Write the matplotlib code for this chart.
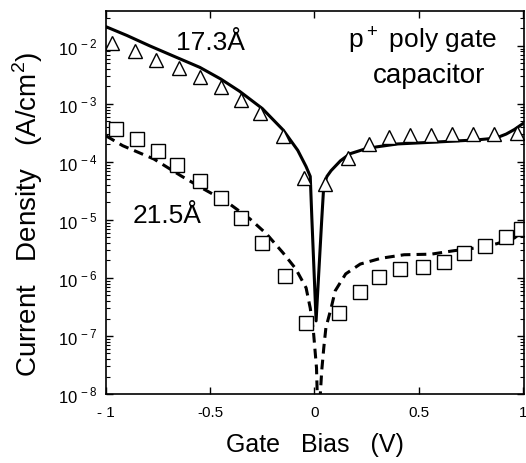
import numpy as np
import matplotlib
matplotlib.use('Agg')
import matplotlib.pyplot as plt
from matplotlib.ticker import LogLocator, NullFormatter, FixedLocator

plt.rcParams['font.family'] = ['Liberation Sans', 'DejaVu Sans']
plt.rcParams['mathtext.fontset'] = 'custom'
plt.rcParams['mathtext.rm'] = 'Liberation Sans'

# measured points, 17.3 A oxide (triangles)
tri_v = [-0.97, -0.86, -0.76, -0.65, -0.55, -0.45, -0.35, -0.26, -0.15, -0.05,
         0.05, 0.16, 0.26, 0.36, 0.46, 0.56, 0.66, 0.76, 0.86, 0.97]
tri_j = [1.12e-2, 8.2e-3, 5.7e-3, 4.2e-3, 2.9e-3, 1.96e-3, 1.17e-3, 6.9e-4, 2.8e-4, 5.3e-5,
         4.2e-5, 1.17e-4, 2.0e-4, 2.7e-4, 2.9e-4, 2.95e-4, 3.0e-4, 3.0e-4, 3.0e-4, 3.1e-4]

# measured points, 21.5 A oxide (squares)
sq_v = [-0.95, -0.85, -0.75, -0.66, -0.55, -0.45, -0.35, -0.25, -0.14, -0.04,
        0.12, 0.22, 0.31, 0.41, 0.52, 0.62, 0.72, 0.82, 0.92, 0.99]
sq_j = [3.7e-4, 2.5e-4, 1.56e-4, 8.9e-5, 4.7e-5, 2.4e-5, 1.07e-5, 4.0e-6, 1.08e-6, 1.7e-7,
        2.5e-7, 5.7e-7, 1.04e-6, 1.44e-6, 1.55e-6, 1.9e-6, 2.7e-6, 3.5e-6, 5.1e-6, 6.9e-6]

# simulated curve, 17.3 A (solid), log10 of current density
sim1_v = [-1.0, -0.9, -0.79, -0.68, -0.55, -0.45, -0.36, -0.25, -0.15, -0.08, -0.04, -0.02,
          -0.012, 0.008, 0.035, 0.045, 0.06, 0.08, 0.125, 0.17, 0.24, 0.30, 0.40, 0.57,
          0.78, 0.87, 0.92, 0.96, 1.0]
sim1_log = [-1.67, -1.82, -2.0, -2.17, -2.37, -2.57, -2.78, -3.08, -3.45, -3.8, -4.08, -4.25,
            -5.0, -6.74, -5.0, -4.4, -4.25, -4.15, -3.98, -3.86, -3.78, -3.74, -3.69, -3.66,
            -3.62, -3.59, -3.52, -3.44, -3.34]

# simulated curve, 21.5 A (dashed), log10 of current density
sim2_v = [-1.0, -0.92, -0.77, -0.64, -0.53, -0.42, -0.31, -0.23, -0.15, -0.09, -0.04, -0.02,
          -0.005, 0.01, 0.015, 0.025, 0.035, 0.045, 0.055, 0.08, 0.10, 0.15, 0.22, 0.32, 0.43,
          0.56, 0.67, 0.78, 0.875, 0.96, 1.0]
sim2_log = [-3.55, -3.72, -3.95, -4.24, -4.47, -4.69, -4.98, -5.24, -5.57, -5.84, -6.17, -6.52,
            -6.91, -7.55, -8.2, -8.2, -7.6, -7.2, -6.86, -6.52, -6.22, -5.93, -5.76, -5.66, -5.60,
            -5.59, -5.53, -5.48, -5.41, -5.31, -5.19]

fig = plt.figure(figsize=(5.26, 4.64), dpi=100)
ax = fig.add_axes([0.2015, 0.1487, 0.7945, 0.8253])

ax.plot(sim1_v, 10 ** np.array(sim1_log), color='k', lw=2.2, solid_joinstyle='round')
ax.plot(sim2_v, 10 ** np.array(sim2_log), color='k', lw=2.2, dashes=(3.2, 2.0))
ax.plot(tri_v, tri_j, ls='none', marker='^', ms=10, mfc='white', mec='k', mew=1.0)
ax.plot(sq_v, sq_j, ls='none', marker='s', ms=10.5, mfc='white', mec='k', mew=1.0)

ax.set_yscale('log')
ax.set_xlim(-1.0, 1.005)
ax.set_ylim(1e-8, 10 ** -1.4)

ax.xaxis.set_major_locator(FixedLocator([-1, -0.5, 0, 0.5, 1]))
ax.set_xticklabels(['- 1', '-0.5', '0', '0.5', '1'])
ax.yaxis.set_minor_locator(LogLocator(base=10, subs=np.arange(2, 10), numticks=50))
ax.yaxis.set_minor_formatter(NullFormatter())
ax.set_yticks([1e-8, 1e-7, 1e-6, 1e-5, 1e-4, 1e-3, 1e-2])
ax.set_yticklabels([r'$10^{\,%d}$' % e for e in range(-8, -1)])

ax.tick_params(axis='x', which='both', direction='in', top=True, labelsize=11, pad=8)
ax.tick_params(axis='y', which='both', direction='in', right=True, labelsize=12, pad=6)
ax.tick_params(axis='both', which='major', length=5, width=1)
ax.tick_params(axis='both', which='minor', length=3, width=0.8)
for s in ax.spines.values():
    s.set_linewidth(1.2)

ax.set_xlabel('Gate   Bias   (V)', fontsize=18, labelpad=9)
ax.set_ylabel('Current   Density   (A/cm$^2$)', fontsize=20)
ax.yaxis.set_label_coords(-0.145, 0.473)

ax.text(-0.5, 8.9e-3, '17.3\u00c5', fontsize=19, ha='center', va='baseline')
ax.text(-0.707, 9.3e-6, '21.5\u00c5', fontsize=19, ha='center', va='baseline')
ax.text(0.52, 9.6e-3, 'p$^+$ poly gate', fontsize=19, ha='center', va='baseline')
ax.text(0.548, 2.4e-3, 'capacitor', fontsize=20, ha='center', va='baseline')

fig.savefig('out.png', dpi=100)
